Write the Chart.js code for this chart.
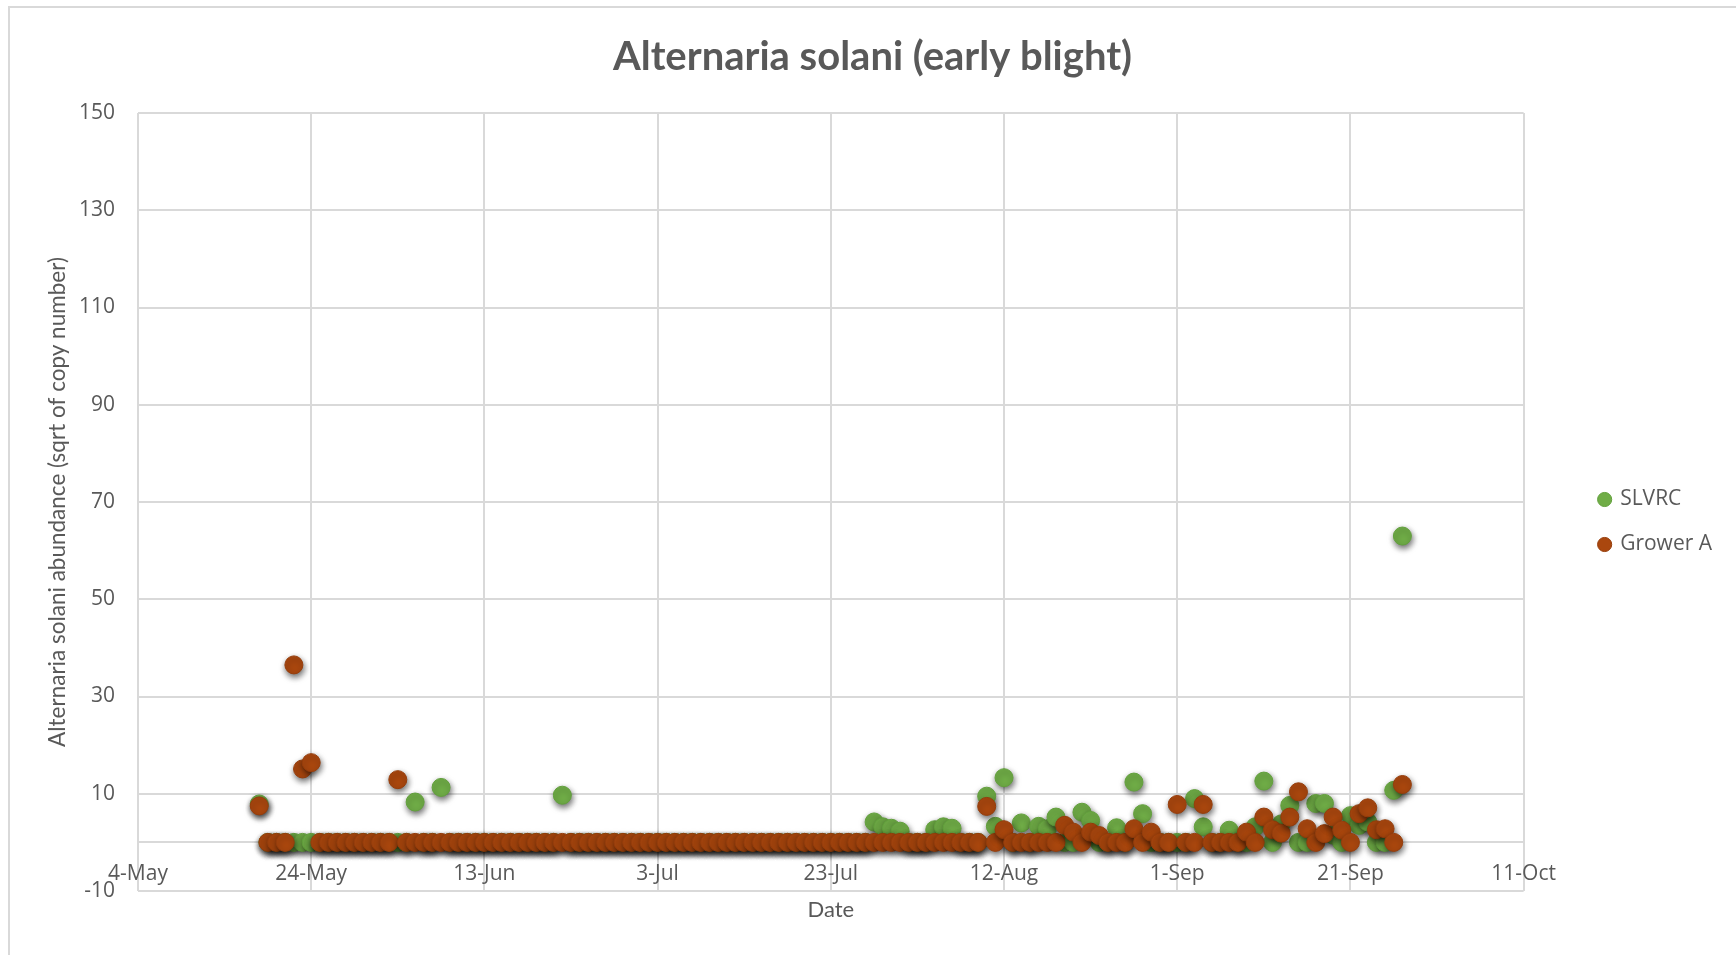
<!DOCTYPE html>
<html>
<head>
<meta charset="utf-8">
<script src="https://cdn.jsdelivr.net/npm/chart.js@4.4.1/dist/chart.umd.min.js"></script>
<style>
  html, body { margin: 0; padding: 0; background: #ffffff; }
  #wrap { position: relative; width: 1736px; height: 955px; overflow: hidden; }
  #c { position: absolute; left: 0; top: 0; }
  #frame { position: absolute; left: 8px; top: 6px; width: 1760px; height: 980px;
           border-left: 2px solid #D9D9D9; border-top: 2px solid #D9D9D9; pointer-events: none; }
</style>
</head>
<body>
<div id="wrap">
  <canvas id="c" width="1736" height="955"></canvas>
  <div id="frame"></div>
</div>
<script>
// ---------------- data ----------------
const chartTitle = 'Alternaria solani (early blight)';
const xAxisTitle = 'Date';
const yAxisTitle = 'Alternaria solani abundance (sqrt of copy number)';
const seriesNames = ['SLVRC', 'Grower A'];

// x axis: days counted from 4-May, one tick every 20 days
const xTickLabels = ['4-May', '24-May', '13-Jun', '3-Jul', '23-Jul', '12-Aug', '1-Sep', '21-Sep', '11-Oct'];
const xTickStep = 20;
const yTickValues = [-10, 10, 30, 50, 70, 90, 110, 130, 150];

// daily samples, first sample on 18-May (day 14 after 4-May), last on 27-Sep
const firstSampleDay = 14;

// SLVRC, one value per day (rows of 10 days)
const slvrc = [
  7.9, 0, 0, 0, 0, 0, 0, 0, 0, 0,          // 18-May .. 27-May
  0, 0, 0, 0, 0, 0, 0, 0, 8.3, 0,          // 28-May .. 6-Jun
  0, 11.3, 0, 0, 0, 0, 0, 0, 0, 0,         // 7-Jun .. 16-Jun
  0, 0, 0, 0, 0, 9.7, 0, 0, 0, 0,          // 17-Jun .. 26-Jun
  0, 0, 0, 0, 0, 0, 0, 0, 0, 0,            // 27-Jun .. 6-Jul
  0, 0, 0, 0, 0, 0, 0, 0, 0, 0,            // 7-Jul .. 16-Jul
  0, 0, 0, 0, 0, 0, 0, 0, 0, 0,            // 17-Jul .. 26-Jul
  0, 4.2, 3.2, 2.9, 2.3, 0, 0, 0, 2.6, 3.2,        // 27-Jul .. 5-Aug
  2.9, 0, 0, 0, 9.5, 3.3, 13.3, 0, 4.0, 0,         // 6-Aug .. 15-Aug
  3.3, 2.8, 5.2, 0, 0, 6.2, 4.5, 0, 0, 3.0,        // 16-Aug .. 25-Aug
  0, 12.4, 5.9, 0, 0, 0, 0, 0, 9.0, 3.2,           // 26-Aug .. 4-Sep
  0, 0, 2.5, 0, 0, 3.2, 12.6, 0, 3.8, 7.6,         // 5-Sep .. 14-Sep
  0, 0, 8.0, 8.0, 1.5, 0, 5.5, 3.5, 4.2, 0,        // 15-Sep .. 24-Sep
  0, 10.7, 63.0                                    // 25-Sep .. 27-Sep
];

// Grower A, one value per day (rows of 10 days)
const growerA = [
  7.5, 0, 0, 0, 36.5, 15.1, 16.4, 0, 0, 0, // 18-May .. 27-May
  0, 0, 0, 0, 0, 0, 12.9, 0, 0, 0,         // 28-May .. 6-Jun
  0, 0, 0, 0, 0, 0, 0, 0, 0, 0,            // 7-Jun .. 16-Jun
  0, 0, 0, 0, 0, 0, 0, 0, 0, 0,            // 17-Jun .. 26-Jun
  0, 0, 0, 0, 0, 0, 0, 0, 0, 0,            // 27-Jun .. 6-Jul
  0, 0, 0, 0, 0, 0, 0, 0, 0, 0,            // 7-Jul .. 16-Jul
  0, 0, 0, 0, 0, 0, 0, 0, 0, 0,            // 17-Jul .. 26-Jul
  0, 0, 0, 0, 0, 0, 0, 0, 0, 0,            // 27-Jul .. 5-Aug
  0, 0, 0, 0, 7.4, 0, 2.6, 0, 0, 0,                // 6-Aug .. 15-Aug
  0, 0, 0, 3.5, 2.1, 0, 2.1, 1.4, 0, 0,            // 16-Aug .. 25-Aug
  0, 2.8, 0, 2.1, 0, 0, 7.8, 0, 0, 7.8,            // 26-Aug .. 4-Sep
  0, 0, 0, 0, 2.1, 0, 5.2, 2.6, 1.9, 5.2,          // 5-Sep .. 14-Sep
  10.4, 2.8, 0, 1.8, 5.2, 2.5, 0, 5.9, 7.1, 2.6,   // 15-Sep .. 24-Sep
  2.8, 0, 11.9                                     // 25-Sep .. 27-Sep
];

// ---------------- chart ----------------
const sampleDay = slvrc.map((_, i) => firstSampleDay + i);
const toPoints = vals => vals.map((v, i) => ({ x: sampleDay[i], y: v }));

const markerShadow = {
  id: 'markerShadow',
  beforeDatasetsDraw(chart) {
    const c = chart.ctx;
    c.save();
    c.shadowColor = 'rgba(0,0,0,0.6)';
    c.shadowBlur = 6;
    c.shadowOffsetX = 1;
    c.shadowOffsetY = 3;
  },
  afterDatasetsDraw(chart) { chart.ctx.restore(); }
};

const textGrey = '#595959';
const gridGrey = '#D9D9D9';

new Chart(document.getElementById('c'), {
  type: 'scatter',
  data: {
    datasets: [
      { label: seriesNames[0], data: toPoints(slvrc), order: 1,
        backgroundColor: '#70AD47', borderColor: '#62A03C', borderWidth: 1,
        pointRadius: 9, pointHoverRadius: 9, pointStyle: 'circle' },
      { label: seriesNames[1], data: toPoints(growerA), order: 0,
        backgroundColor: '#AA470E', borderColor: '#963D0B', borderWidth: 1,
        pointRadius: 9, pointHoverRadius: 9, pointStyle: 'circle' }
    ]
  },
  plugins: [markerShadow],
  options: {
    responsive: false,
    animation: false,
    events: [],
    layout: { padding: { left: 23, right: 14, top: 0, bottom: 64 } },
    plugins: {
      title: {
        display: true, text: chartTitle, color: textGrey,
        font: { family: 'Lato', size: 40, weight: 'bold' },
        padding: { top: 33, bottom: 32 }
      },
      legend: {
        position: 'right', align: 'center', fullSize: false,
        title: { display: true, text: '', font: { size: 10 }, padding: { top: 0, bottom: 28 } },
        labels: {
          usePointStyle: true, pointStyle: 'circle', boxWidth: 10, boxHeight: 10,
          color: textGrey, font: { family: 'Open Sans', size: 21 }, padding: 24,
          sort: (a, b) => a.datasetIndex - b.datasetIndex
        }
      },
      tooltip: { enabled: false }
    },
    scales: {
      x: {
        type: 'linear', position: { y: 0 },
        min: 0, max: xTickStep * (xTickLabels.length - 1),
        ticks: {
          stepSize: xTickStep, autoSkip: false, maxRotation: 0, padding: 19,
          color: textGrey, font: { family: 'Open Sans', size: 21 },
          callback: v => xTickLabels[Math.round(v / xTickStep)]
        },
        grid: { color: gridGrey, lineWidth: 2, drawTicks: false },
        border: { display: true, color: gridGrey, width: 2 },
        title: { display: true, text: xAxisTitle, color: textGrey,
                 font: { family: 'Lato', size: 22 }, padding: { top: -9, bottom: 0 } }
      },
      y: {
        type: 'linear', position: 'left',
        min: yTickValues[0], max: yTickValues[yTickValues.length - 1],
        afterBuildTicks: s => { s.ticks = yTickValues.map(v => ({ value: v })); },
        afterFit: s => { s.width = 115; },
        ticks: {
          padding: 23, color: textGrey, font: { family: 'Open Sans', size: 21 },
          callback: v => String(v)
        },
        grid: { color: gridGrey, lineWidth: 2, drawTicks: false },
        border: { display: false },
        title: { display: true, text: yAxisTitle, color: textGrey,
                 font: { family: 'Lato', size: 22.5 }, padding: { top: 21, bottom: 4 } }
      },
      gap: {
        type: 'linear', position: 'right', display: true, min: 0, max: 1,
        grid: { display: false }, border: { display: false },
        ticks: { display: false },
        afterFit: s => { s.width = 52; }
      }
    }
  }
});
</script>
</body>
</html>
